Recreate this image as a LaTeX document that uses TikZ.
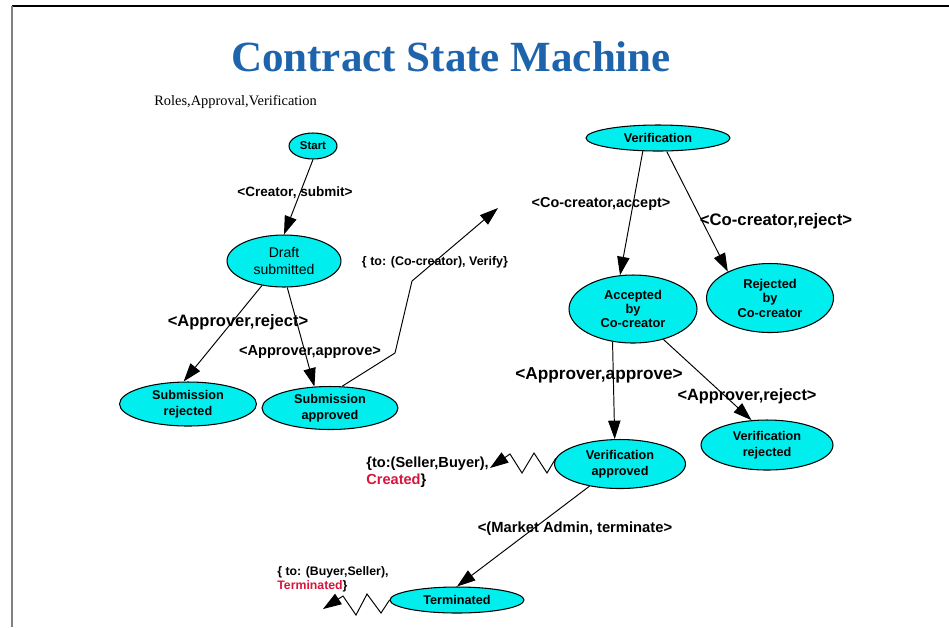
\documentclass[tikz,border=0pt]{standalone}
\usepackage{fontspec}
\setmainfont{Liberation Sans}
\newfontfamily\titlefont{Liberation Serif}
\usetikzlibrary{arrows.meta,shapes.geometric}

\definecolor{stateFill}{RGB}{0,238,238}
\definecolor{titleBlue}{RGB}{30,100,172}
\definecolor{eventRed}{RGB}{215,20,60}

\begin{document}
\begin{tikzpicture}[x=0.02cm,y=-0.02cm,
state/.style = {ellipse,draw=black,line width=0.6pt,fill=stateFill,
        inner sep=0pt,align=center,
        font=\fontsize{7.2}{8.8}\selectfont\bfseries},
trans/.style = {line width=0.55pt,
        -{Triangle[length=10.5pt,width=7pt]}},
lbl/.style = {inner sep=0pt,font=\fontsize{#1}{#1}\selectfont\bfseries}]

        \useasboundingbox (0,0) rectangle (949,627);
        \draw[black,line width=1pt] (12,6) -- (949,6);
        \draw[gray,line width=1.2pt] (12,6) -- (12,627);

        \node[anchor=base,text=titleBlue,
              font=\titlefont\fontsize{24.5}{28}\selectfont\bfseries] (title) at (451,71) {Contract State Machine};
        \node[anchor=west,inner sep=0pt,
              font=\titlefont\fontsize{8.2}{9}\selectfont] (roles) at (154,102) {Roles,Approval,Verification};

        % states
        \node[state,minimum width=0.96cm,minimum height=0.52cm,
              font=\fontsize{6.5}{7.5}\selectfont\bfseries] (start) at (313,146) {Start};
        \node[state,minimum width=2.28cm,minimum height=1.04cm,
              font=\fontsize{8}{9.8}\selectfont] (draft) at (284,261) {Draft\\submitted};
        \node[state,minimum width=2.74cm,minimum height=0.88cm] (subrej) at (188,404) {Submission\\rejected};
        \node[state,minimum width=2.72cm,minimum height=0.86cm] (subapp) at (330,408) {Submission\\approved};
        \node[state,minimum width=2.88cm,minimum height=0.52cm] (verif) at (658,138) {Verification};
        \node[state,minimum width=2.56cm,minimum height=1.36cm,
              font=\fontsize{7.3}{8.1}\selectfont\bfseries] (acc) at (633,309) {Accepted\\by\\Co-creator};
        \node[state,minimum width=2.54cm,minimum height=1.38cm,
              font=\fontsize{7.3}{8.3}\selectfont\bfseries] (rejco) at (770,298) {Rejected\\by\\Co-creator};
        \node[state,minimum width=2.62cm,minimum height=0.98cm] (verapp) at (620,464) {Verification\\approved};
        \node[state,minimum width=2.64cm,minimum height=1.00cm] (verrej) at (767,445) {Verification\\rejected};
        \node[state,minimum width=2.68cm,minimum height=0.52cm] (term) at (457,600) {Terminated};

        % transitions
        \draw[trans] (start.south) -- (draft.north);
        \draw[trans] (draft.228) -- (subrej.101);
        \draw[trans] (draft.277) -- (subapp.126);
        \draw[trans] (verif.221) -- (acc.111);
        \draw[trans] (verif.303) -- (rejco.148);
        \draw[trans] (acc.238) -- (verapp.102);
        \draw[trans] (acc.315) -- (verrej.122);
        \draw[trans] (verapp.216) -- (term.north);

        \coordinate (SA_K1) at (395,353);
        \coordinate (SA_K2) at (412,281);
        \coordinate (SA_End) at (498,208);
        \draw[trans] (subapp.61) -- (SA_K1) -- (SA_K2) -- (SA_End);

        \coordinate (VA_Z1) at (547,473);
        \coordinate (VA_Z2) at (534,453);
        \coordinate (VA_Z3) at (522,473);
        \coordinate (VA_Z4) at (510,454);
        \coordinate (VA_Tip) at (490,468);
        \draw[trans] (verapp.175) -- (VA_Z1) -- (VA_Z2) -- (VA_Z3) -- (VA_Z4) -- (VA_Tip);

        \coordinate (TE_Z1) at (381,613);
        \coordinate (TE_Z2) at (367,594);
        \coordinate (TE_Z3) at (356,615);
        \coordinate (TE_Z4) at (343,596);
        \coordinate (TE_Tip) at (323,609);
        \draw[trans] (term.west) -- (TE_Z1) -- (TE_Z2) -- (TE_Z3) -- (TE_Z4) -- (TE_Tip);

        % events
        \node[lbl=7.7] (l_submit) at (295,193) {<Creator, submit>};
        \node[lbl=9.4] (l_rej) at (238,322) {<Approver,reject>};
        \node[lbl=8.3] (l_app) at (310,352) {<Approver,approve>};
        \node[lbl=7.1] (l_verify) at (435,262) {\{ to: (Co-creator), Verify\}};
        \node[lbl=8.2] (l_accept) at (601,204) {<Co-creator,accept>};
        \node[lbl=9.5] (l_coreject) at (776,221) {<Co-creator,reject>};
        \node[lbl=9.8] (l_vapp) at (599,375) {<Approver,approve>};
        \node[lbl=9.3] (l_vrej) at (747,396) {<Approver,reject>};
        \node[lbl=8.4] (l_term) at (575,529) {<(Market Admin, terminate>};
        \node[lbl=8.3,anchor=west,align=left,
              font=\fontsize{8.3}{9.6}\selectfont\bfseries] (l_created) at (366,472)
              {\{to:(Seller,Buyer),\\{\color{eventRed}Created}\}};
        \node[lbl=7,anchor=west,align=left,
              font=\fontsize{7}{8}\selectfont\bfseries] (l_terminated) at (277,579)
              {\{ to: (Buyer,Seller),\\{\color{eventRed}Terminated}\}};

\end{tikzpicture}
\end{document}
